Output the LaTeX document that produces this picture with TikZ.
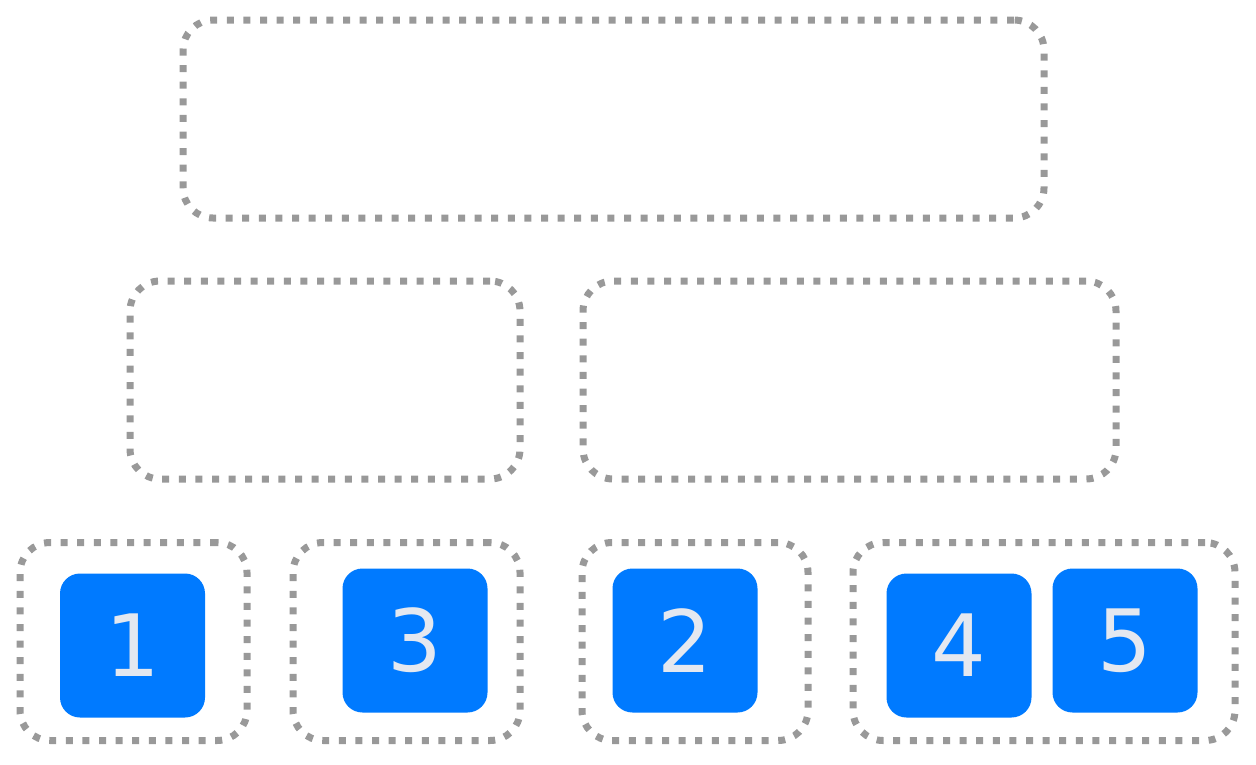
\documentclass[tikz,border=0pt]{standalone}
\usepackage{fontspec}
\setmainfont{DejaVu Sans}
\definecolor{gbox}{HTML}{999999}
\definecolor{bluesq}{HTML}{007AFF}
\definecolor{numtxt}{HTML}{E4E8F0}
\begin{document}
\begin{tikzpicture}[x=1pt,y=-1pt,
  group/.style={draw=gbox,line width=7pt,dash pattern=on 7pt off 9.6pt,rounded corners=30pt,
    rectangle,inner sep=0pt,outer sep=0pt},
  item/.style={fill=bluesq,rounded corners=20pt,rectangle,inner sep=0pt,outer sep=0pt,
    minimum width=145pt,minimum height=144pt,text=numtxt,font=\fontsize{86}{86}\selectfont}]
\useasboundingbox (0,0) rectangle (1256,764);
\node[group,minimum width=861pt,minimum height=198pt] (top) at (613.5,119) {};
\node[group,minimum width=390pt,minimum height=198pt] (ml) at (325,380) {};
\node[group,minimum width=533pt,minimum height=198pt] (mr) at (849.5,380) {};
\node[group,minimum width=227pt,minimum height=198pt] (b1) at (133.5,641.5) {};
\node[group,minimum width=227pt,minimum height=198pt] (b3) at (406.5,641.5) {};
\node[group,minimum width=226pt,minimum height=198pt] (b2) at (695,641.5) {};
\node[group,minimum width=382pt,minimum height=198pt] (b45) at (1044,641.5) {};
\node[item] (n1) at (132.5,645.5) {1};
\node[item] (n3) at (415,640.5) {3};
\node[item] (n2) at (685,640.5) {2};
\node[item] (n4) at (959,645.5) {4};
\node[item] (n5) at (1125,640.5) {5};
\end{tikzpicture}
\end{document}
